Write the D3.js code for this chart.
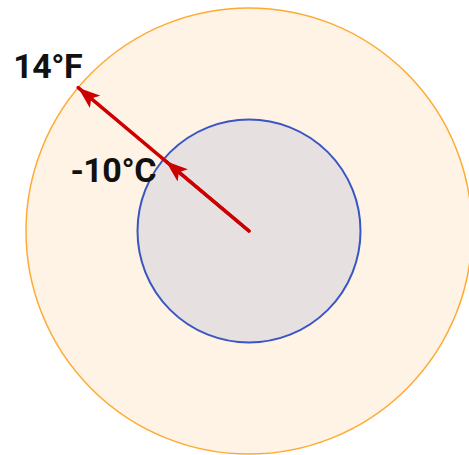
<!DOCTYPE html>
<html>
<head>
<meta charset="utf-8">
<script src="https://cdn.jsdelivr.net/npm/d3@7"></script>
<style>
  html, body { margin: 0; padding: 0; background: #ffffff; }
  svg { display: block; }
</style>
</head>
<body>
<svg id="chart" width="469" height="455"></svg>
<script>
// ---- data ----
const rings = ["outer", "inner"];
const ringLevels = [2, 1];            // relative radius level of each ring
const ringLabels = ["14°F", "-10°C"];
const arrowAngleDeg = 140;            // direction of the pointers

// ---- layout ----
const W = 469, H = 455;
const cx = 249, cy = 231;
const r = d3.scaleLinear().domain([0, 2]).range([0, 223]);
const styles = {
  outer: { fill: "#fef3e4", stroke: "#ffaa33", sw: 1.5 },
  inner: { fill: "#e6e0e1", stroke: "#3a56c4", sw: 2 }
};
const labelOffset = {
  outer: { dx: 4, dy: -10, tipInset: 0 },
  inner: { dx: -10, dy: 21, tipInset: 3 }
};

const svg = d3.select("#chart");
svg.append("defs").append("marker")
  .attr("id", "head")
  .attr("viewBox", "0 0 22 16")
  .attr("refX", 22).attr("refY", 8)
  .attr("markerUnits", "userSpaceOnUse")
  .attr("markerWidth", 22).attr("markerHeight", 16)
  .attr("orient", "auto")
  .append("path").attr("d", "M0,0 L22,8 L0,16 L5,8 Z").attr("fill", "#cc0000");

const g = svg.append("g");
g.selectAll("circle.ring").data(rings).join("circle")
  .attr("class", "ring")
  .attr("cx", cx).attr("cy", cy)
  .attr("r", (d, i) => r(ringLevels[i]))
  .attr("fill", d => styles[d].fill)
  .attr("stroke", d => styles[d].stroke)
  .attr("stroke-width", d => styles[d].sw);

const a = arrowAngleDeg * Math.PI / 180;
const tip = (d, i) => {
  const rr = r(ringLevels[i]) - labelOffset[d].tipInset;
  return [cx + rr * Math.cos(a), cy - rr * Math.sin(a)];
};

g.selectAll("line.ptr").data(rings).join("line")
  .attr("class", "ptr")
  .attr("x1", cx).attr("y1", cy)
  .attr("x2", (d, i) => tip(d, i)[0])
  .attr("y2", (d, i) => tip(d, i)[1])
  .attr("stroke", "#cc0000")
  .attr("stroke-width", 3.5)
  .attr("stroke-linecap", "round")
  .attr("marker-end", "url(#head)");

g.selectAll("text.lbl").data(rings).join("text")
  .attr("class", "lbl")
  .attr("x", (d, i) => tip(d, i)[0] + labelOffset[d].dx)
  .attr("y", (d, i) => tip(d, i)[1] + labelOffset[d].dy)
  .attr("text-anchor", "end")
  .attr("font-family", "Roboto, sans-serif")
  .attr("font-size", 34)
  .attr("font-weight", 700)
  .attr("letter-spacing", "-0.5px")
  .attr("fill", "#111111")
  .text((d, i) => ringLabels[i]);
</script>
</body>
</html>
